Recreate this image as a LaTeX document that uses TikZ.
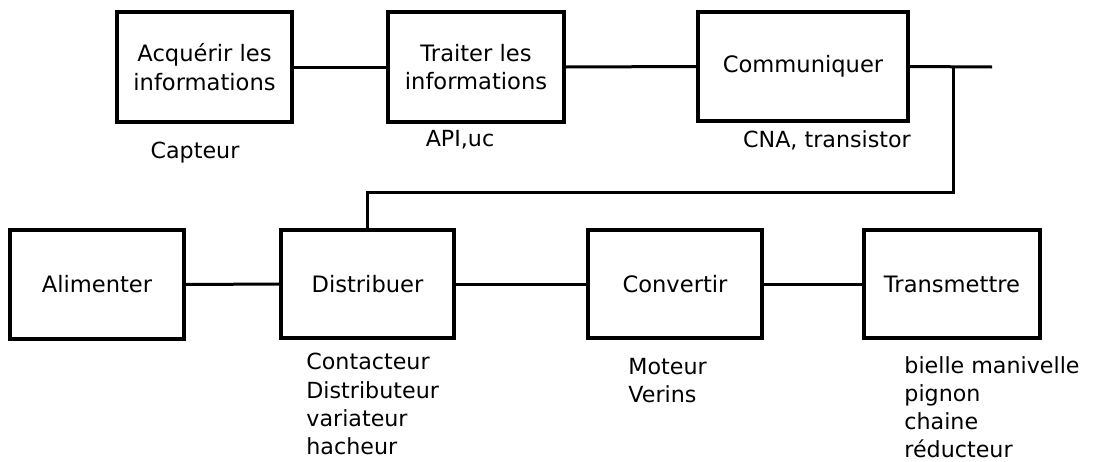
\documentclass[tikz,border=0pt]{standalone}
\usepackage{fontspec}
\setmainfont{DejaVu Sans}
\begin{document}
\begin{tikzpicture}[x=0.5pt,y=-0.5pt,
  fbox/.style={draw,line width=1.6pt,rectangle,inner sep=0pt,align=center,
    font=\fontsize{11.3}{14.2}\selectfont},
  link/.style={line width=1.5pt},
  note/.style={inner sep=0pt,align=left,font=\fontsize{11.1}{14.1}\selectfont}]
\useasboundingbox (0,0) rectangle (1109,461);
% top chain: information
\node[fbox,minimum width=87.5pt,minimum height=55pt] (acq) at (204.5,67) {Acquérir les\\informations};
\node[fbox,minimum width=88pt,minimum height=55pt] (trait) at (476,67) {Traiter les\\informations};
\node[fbox,minimum width=105pt,minimum height=54.5pt] (comm) at (803,66.5) {Communiquer};
% bottom chain: energy
\node[fbox,minimum width=87pt,minimum height=54.5pt] (alim) at (97,284.5) {Alimenter};
\node[fbox,minimum width=86.5pt,minimum height=54pt] (dist) at (367.5,284) {Distribuer};
\node[fbox,minimum width=87pt,minimum height=54pt] (conv) at (675,284) {Convertir};
\node[fbox,minimum width=88pt,minimum height=54pt] (trans) at (952,284) {Transmettre};
% components
\node[note] (ncapt) at (195,153) {Capteur};
\node[note] (napi) at (460,140) {API,uc};
\node[note] (ncna) at (827,140) {CNA, transistor};
\node[note,anchor=north west] (ndist) at (306,353) {Contacteur\\Distributeur\\variateur\\hacheur};
\node[note,anchor=north west] (nconv) at (628,358) {Moteur\\Verins};
\node[note,anchor=north west] (ntrans) at (904,356) {bielle manivelle\\pignon\\chaine\\réducteur};
% connections
\coordinate (jn) at (953,67);
\coordinate (out) at (992,67);
\coordinate (bend) at (953,192);
\draw[link] (acq.east) -- (trait.west);
\draw[link] (trait.east) -- (comm.west);
\draw[link] (comm.east) -- (out);
\draw[link] (jn) -- (bend) -| (dist.north);
\draw[link] (alim.east) -- (dist.west);
\draw[link] (dist.east) -- (conv.west);
\draw[link] (conv.east) -- (trans.west);
\end{tikzpicture}
\end{document}
